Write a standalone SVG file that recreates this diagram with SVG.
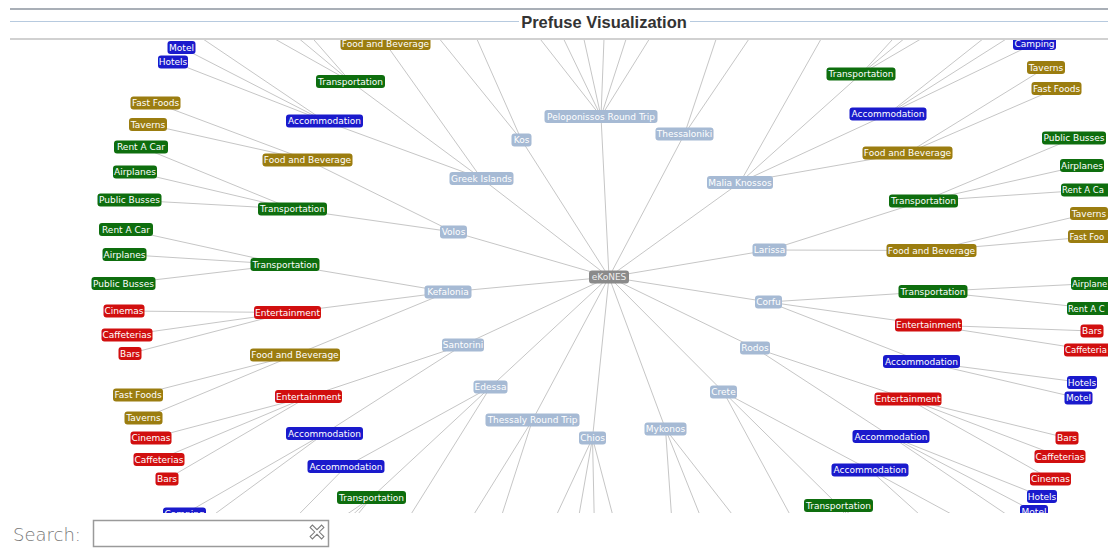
<svg xmlns="http://www.w3.org/2000/svg" width="1108" height="548" viewBox="0 0 1108 548">
  <defs>
    <style>
      .bar-thick { fill: #a9afb7; }
      .bar-blue { stroke: #b7cadf; stroke-width: 1; }
      .bar-base { stroke: #a3a3a3; stroke-width: 1.2; }
      .title { font-family: "Liberation Sans", Arial, sans-serif; font-weight: bold; font-size: 16.5px; fill: #333333; }
      .edges line { stroke: #c6c6c6; stroke-width: 1; fill: none; }
      .node rect { rx: 3; ry: 3; }
      .node text { font-family: "DejaVu Sans", "Noto Sans", sans-serif; font-size: 9px; fill: #ffffff; text-anchor: middle; }
      .node text.lead { text-anchor: start; font-size: 8.5px; }
      .root rect { fill: #8a8a8a; }
      .root text { fill: #eeeeee; }
      .city rect { fill: #a6bad4; }
      .acc rect { fill: #1a1acc; }
      .tra rect { fill: #0e6e0e; }
      .fnb rect { fill: #9b7d10; }
      .ent rect { fill: #d10f0f; }
      .search-label { font-family: "DejaVu Sans", "Liberation Sans", sans-serif; font-weight: 200; font-size: 18px; fill: #777777; }
    </style>
    <clipPath id="panel">
      <rect x="10" y="40" width="1098" height="473"/>
    </clipPath>
  </defs>

  <rect x="0" y="0" width="1108" height="548" fill="#ffffff"/>

  <!-- titled border of the display panel -->
  <g id="title-bar">
    <rect class="bar-thick" x="10" y="8" width="1098" height="2"/>
    <line class="bar-blue" x1="10" y1="21.5" x2="519" y2="21.5"/>
    <line class="bar-blue" x1="690" y1="21.5" x2="1108" y2="21.5"/>
    <line class="bar-base" x1="10" y1="39" x2="1108" y2="39"/>
    <text class="title" x="604" y="27.5" text-anchor="middle">Prefuse Visualization</text>
  </g>

  <g clip-path="url(#panel)">
    <!-- tree edges: root -> city -> category -> item -->
    <g id="connectors" class="edges">
      <!-- root to cities -->
      <line x1="609" y1="277" x2="601" y2="116.5"/>
      <line x1="609" y1="277" x2="521.5" y2="140"/>
      <line x1="609" y1="277" x2="684.5" y2="134"/>
      <line x1="609" y1="277" x2="481.5" y2="178.5"/>
      <line x1="609" y1="277" x2="740" y2="182.5"/>
      <line x1="609" y1="277" x2="453.5" y2="232"/>
      <line x1="609" y1="277" x2="769.5" y2="250"/>
      <line x1="609" y1="277" x2="448" y2="292"/>
      <line x1="609" y1="277" x2="768.5" y2="302"/>
      <line x1="609" y1="277" x2="463" y2="345"/>
      <line x1="609" y1="277" x2="755" y2="348"/>
      <line x1="609" y1="277" x2="490.5" y2="387"/>
      <line x1="609" y1="277" x2="723.5" y2="392"/>
      <line x1="609" y1="277" x2="532.5" y2="420"/>
      <line x1="609" y1="277" x2="665.5" y2="429"/>
      <line x1="609" y1="277" x2="592.5" y2="438"/>

      <!-- cities to categories -->
      <line x1="481.5" y1="178.5" x2="350.5" y2="81.5"/>
      <line x1="481.5" y1="178.5" x2="324.5" y2="121"/>
      <line x1="481.5" y1="178.5" x2="385.5" y2="43.5"/>
      <line x1="453.5" y1="232" x2="307.5" y2="160"/>
      <line x1="453.5" y1="232" x2="292.5" y2="209"/>
      <line x1="448" y1="292" x2="285" y2="264.5"/>
      <line x1="448" y1="292" x2="287.5" y2="312.5"/>
      <line x1="448" y1="292" x2="295" y2="355"/>
      <line x1="463" y1="345" x2="308.5" y2="396.5"/>
      <line x1="463" y1="345" x2="324.5" y2="433.5"/>
      <line x1="490.5" y1="387" x2="346" y2="466.5"/>
      <line x1="490.5" y1="387" x2="371.5" y2="497.5"/>
      <line x1="490.5" y1="387" x2="403" y2="527"/>
      <line x1="532.5" y1="420" x2="447" y2="557.6"/>
      <line x1="532.5" y1="420" x2="482.4" y2="575.2"/>
      <line x1="592.5" y1="438" x2="521.9" y2="589.1"/>
      <line x1="592.5" y1="438" x2="564.5" y2="597.9"/>
      <line x1="592.5" y1="438" x2="596" y2="600.7"/>
      <line x1="592.5" y1="438" x2="635" y2="600"/>
      <line x1="665.5" y1="429" x2="676.9" y2="593.8"/>
      <line x1="665.5" y1="429" x2="725.6" y2="579.3"/>
      <line x1="665.5" y1="429" x2="767.6" y2="559.6"/>
      <line x1="723.5" y1="392" x2="870" y2="470"/>
      <line x1="723.5" y1="392" x2="838.5" y2="505.5"/>
      <line x1="723.5" y1="392" x2="802.2" y2="537.1"/>
      <line x1="755" y1="348" x2="908" y2="399"/>
      <line x1="755" y1="348" x2="891" y2="436.5"/>
      <line x1="768.5" y1="302" x2="933" y2="291.5"/>
      <line x1="768.5" y1="302" x2="928.5" y2="325"/>
      <line x1="768.5" y1="302" x2="921.5" y2="361.5"/>
      <line x1="769.5" y1="250" x2="923.5" y2="201"/>
      <line x1="769.5" y1="250" x2="931.5" y2="250.5"/>
      <line x1="740" y1="182.5" x2="823.7" y2="34.3"/>
      <line x1="740" y1="182.5" x2="861" y2="74"/>
      <line x1="740" y1="182.5" x2="888" y2="114"/>
      <line x1="740" y1="182.5" x2="907.5" y2="153"/>
      <line x1="684.5" y1="134" x2="736.1" y2="-21"/>
      <line x1="684.5" y1="134" x2="775.9" y2="-0.7"/>
      <line x1="601" y1="116.5" x2="490.3" y2="-24.5"/>
      <line x1="601" y1="116.5" x2="527.3" y2="-36.5"/>
      <line x1="601" y1="116.5" x2="565.6" y2="-44.1"/>
      <line x1="601" y1="116.5" x2="607.3" y2="-47"/>
      <line x1="601" y1="116.5" x2="653" y2="-44"/>
      <line x1="601" y1="116.5" x2="695.6" y2="-35.2"/>
      <line x1="521.5" y1="140" x2="419.5" y2="14.2"/>
      <line x1="521.5" y1="140" x2="455.9" y2="-8.5"/>

      <!-- categories to items -->
      <line x1="350.5" y1="81.5" x2="208.5" y2="1.7"/>
      <line x1="350.5" y1="81.5" x2="226" y2="-22.2"/>
      <line x1="350.5" y1="81.5" x2="242.2" y2="-41.9"/>
      <line x1="324.5" y1="121" x2="190.3" y2="30.4"/>
      <line x1="324.5" y1="121" x2="181.5" y2="47.5"/>
      <line x1="324.5" y1="121" x2="173" y2="62"/>
      <line x1="307.5" y1="160" x2="155.5" y2="103"/>
      <line x1="307.5" y1="160" x2="148" y2="124.5"/>
      <line x1="292.5" y1="209" x2="141" y2="147"/>
      <line x1="292.5" y1="209" x2="135" y2="172"/>
      <line x1="292.5" y1="209" x2="129.5" y2="200"/>
      <line x1="285" y1="264.5" x2="126" y2="229.5"/>
      <line x1="285" y1="264.5" x2="124.5" y2="254.5"/>
      <line x1="285" y1="264.5" x2="123.5" y2="283.5"/>
      <line x1="287.5" y1="312.5" x2="124" y2="311"/>
      <line x1="287.5" y1="312.5" x2="127" y2="335"/>
      <line x1="287.5" y1="312.5" x2="130" y2="353.5"/>
      <line x1="295" y1="355" x2="138" y2="395"/>
      <line x1="295" y1="355" x2="143.5" y2="418"/>
      <line x1="308.5" y1="396.5" x2="151" y2="438"/>
      <line x1="308.5" y1="396.5" x2="159" y2="459.5"/>
      <line x1="308.5" y1="396.5" x2="167" y2="479"/>
      <line x1="324.5" y1="433.5" x2="184.5" y2="514"/>
      <line x1="324.5" y1="433.5" x2="193.7" y2="529.5"/>
      <line x1="346" y1="466.5" x2="231.3" y2="582.9"/>
      <line x1="371.5" y1="497.5" x2="268.4" y2="623.7"/>
      <line x1="371.5" y1="497.5" x2="252.4" y2="607.2"/>
      <line x1="371.5" y1="497.5" x2="236.7" y2="589.4"/>
      <line x1="861" y1="74" x2="971.3" y2="-46.9"/>
      <line x1="861" y1="74" x2="986.7" y2="-28.8"/>
      <line x1="861" y1="74" x2="1002.2" y2="-8.7"/>
      <line x1="888" y1="114" x2="1016.6" y2="12.3"/>
      <line x1="888" y1="114" x2="1025.6" y2="26.7"/>
      <line x1="888" y1="114" x2="1034.5" y2="43.5"/>
      <line x1="907.5" y1="153" x2="1046" y2="67.5"/>
      <line x1="907.5" y1="153" x2="1056.5" y2="88.5"/>
      <line x1="923.5" y1="201" x2="1074" y2="138"/>
      <line x1="923.5" y1="201" x2="1082" y2="165.5"/>
      <line x1="923.5" y1="201" x2="1088" y2="190"/>
      <line x1="931.5" y1="250.5" x2="1089" y2="213.5"/>
      <line x1="931.5" y1="250.5" x2="1093" y2="236.5"/>
      <line x1="933" y1="291.5" x2="1093" y2="283.5"/>
      <line x1="933" y1="291.5" x2="1094" y2="308.5"/>
      <line x1="928.5" y1="325" x2="1092" y2="331"/>
      <line x1="928.5" y1="325" x2="1089.5" y2="350"/>
      <line x1="921.5" y1="361.5" x2="1082" y2="382.5"/>
      <line x1="921.5" y1="361.5" x2="1078.5" y2="398"/>
      <line x1="908" y1="399" x2="1067" y2="438"/>
      <line x1="908" y1="399" x2="1060" y2="456.5"/>
      <line x1="908" y1="399" x2="1050.5" y2="479"/>
      <line x1="891" y1="436.5" x2="1042" y2="496.5"/>
      <line x1="891" y1="436.5" x2="1034" y2="511.5"/>
      <line x1="891" y1="436.5" x2="1025.6" y2="527.3"/>
      <line x1="870" y1="470" x2="1012.9" y2="547.4"/>
      <line x1="870" y1="470" x2="990.4" y2="578.2"/>
      <line x1="838.5" y1="505.5" x2="970.2" y2="602.2"/>
      <line x1="838.5" y1="505.5" x2="952.7" y2="620.7"/>
      <line x1="838.5" y1="505.5" x2="934.2" y2="638.2"/>
    </g>

    <!-- root -->
    <g id="n-ekones" class="node root"><rect x="589" y="270.5" width="40" height="13"/><text x="609" y="280.2">eKoNES</text></g>

    <!-- cities -->
    <g id="n-peloponissos" class="node city"><rect x="544.5" y="110" width="113" height="13"/><text x="601" y="119.7">Peloponissos Round Trip</text></g>
    <g id="n-kos" class="node city"><rect x="511.5" y="133.5" width="20" height="13"/><text x="521.5" y="143.2">Kos</text></g>
    <g id="n-thessaloniki" class="node city"><rect x="655.5" y="127.5" width="58" height="13"/><text x="684.5" y="137.2">Thessaloniki</text></g>
    <g id="n-greek-islands" class="node city"><rect x="449.5" y="172" width="64" height="13"/><text x="481.5" y="181.7">Greek Islands</text></g>
    <g id="n-malia-knossos" class="node city"><rect x="707" y="176" width="66" height="13"/><text x="740" y="185.7">Malia Knossos</text></g>
    <g id="n-volos" class="node city"><rect x="440" y="225.5" width="27" height="13"/><text x="453.5" y="235.2">Volos</text></g>
    <g id="n-larissa" class="node city"><rect x="752.5" y="243.5" width="34" height="13"/><text x="769.5" y="253.2">Larissa</text></g>
    <g id="n-kefalonia" class="node city"><rect x="424.5" y="285.5" width="47" height="13"/><text x="448" y="295.2">Kefalonia</text></g>
    <g id="n-corfu" class="node city"><rect x="755" y="295.5" width="27" height="13"/><text x="768.5" y="305.2">Corfu</text></g>
    <g id="n-santorini" class="node city"><rect x="442" y="338.5" width="42" height="13"/><text x="463" y="348.2">Santorini</text></g>
    <g id="n-rodos" class="node city"><rect x="740" y="341.5" width="30" height="13"/><text x="755" y="351.2">Rodos</text></g>
    <g id="n-edessa" class="node city"><rect x="473.5" y="380.5" width="34" height="13"/><text x="490.5" y="390.2">Edessa</text></g>
    <g id="n-crete" class="node city"><rect x="710" y="385.5" width="27" height="13"/><text x="723.5" y="395.2">Crete</text></g>
    <g id="n-thessaly" class="node city"><rect x="485.5" y="413.5" width="94" height="13"/><text x="532.5" y="423.2">Thessaly Round Trip</text></g>
    <g id="n-mykonos" class="node city"><rect x="644.5" y="422.5" width="42" height="13"/><text x="665.5" y="432.2">Mykonos</text></g>
    <g id="n-chios" class="node city"><rect x="579" y="431.5" width="27" height="13"/><text x="592.5" y="441.2">Chios</text></g>

    <!-- categories, left half -->
    <g id="n-fnb-1" class="node fnb"><rect x="340.5" y="37" width="90" height="13"/><text x="385.5" y="46.7">Food and Beverage</text></g>
    <g id="n-tra-1" class="node tra"><rect x="316" y="75" width="69" height="13"/><text x="350.5" y="84.7">Transportation</text></g>
    <g id="n-acc-1" class="node acc"><rect x="286" y="114.5" width="77" height="13"/><text x="324.5" y="124.2">Accommodation</text></g>
    <g id="n-fnb-2" class="node fnb"><rect x="262.5" y="153.5" width="90" height="13"/><text x="307.5" y="163.2">Food and Beverage</text></g>
    <g id="n-tra-2" class="node tra"><rect x="258" y="202.5" width="69" height="13"/><text x="292.5" y="212.2">Transportation</text></g>
    <g id="n-tra-3" class="node tra"><rect x="250.5" y="258" width="69" height="13"/><text x="285" y="267.7">Transportation</text></g>
    <g id="n-ent-1" class="node ent"><rect x="254" y="306" width="67" height="13"/><text x="287.5" y="315.7">Entertainment</text></g>
    <g id="n-fnb-3" class="node fnb"><rect x="250" y="348.5" width="90" height="13"/><text x="295" y="358.2">Food and Beverage</text></g>
    <g id="n-ent-2" class="node ent"><rect x="275" y="390" width="67" height="13"/><text x="308.5" y="399.7">Entertainment</text></g>
    <g id="n-acc-2" class="node acc"><rect x="286" y="427" width="77" height="13"/><text x="324.5" y="436.7">Accommodation</text></g>
    <g id="n-acc-3" class="node acc"><rect x="307.5" y="460" width="77" height="13"/><text x="346" y="469.7">Accommodation</text></g>
    <g id="n-tra-4" class="node tra"><rect x="337" y="491" width="69" height="13"/><text x="371.5" y="500.7">Transportation</text></g>

    <!-- categories, right half -->
    <g id="n-tra-5" class="node tra"><rect x="826.5" y="67.5" width="69" height="13"/><text x="861" y="77.2">Transportation</text></g>
    <g id="n-acc-4" class="node acc"><rect x="849.5" y="107.5" width="77" height="13"/><text x="888" y="117.2">Accommodation</text></g>
    <g id="n-fnb-4" class="node fnb"><rect x="862.5" y="146.5" width="90" height="13"/><text x="907.5" y="156.2">Food and Beverage</text></g>
    <g id="n-tra-6" class="node tra"><rect x="889" y="194.5" width="69" height="13"/><text x="923.5" y="204.2">Transportation</text></g>
    <g id="n-fnb-5" class="node fnb"><rect x="886.5" y="244" width="90" height="13"/><text x="931.5" y="253.7">Food and Beverage</text></g>
    <g id="n-tra-7" class="node tra"><rect x="898.5" y="285" width="69" height="13"/><text x="933" y="294.7">Transportation</text></g>
    <g id="n-ent-3" class="node ent"><rect x="895" y="318.5" width="67" height="13"/><text x="928.5" y="328.2">Entertainment</text></g>
    <g id="n-acc-5" class="node acc"><rect x="883" y="355" width="77" height="13"/><text x="921.5" y="364.7">Accommodation</text></g>
    <g id="n-ent-4" class="node ent"><rect x="874.5" y="392.5" width="67" height="13"/><text x="908" y="402.2">Entertainment</text></g>
    <g id="n-acc-6" class="node acc"><rect x="852.5" y="430" width="77" height="13"/><text x="891" y="439.7">Accommodation</text></g>
    <g id="n-acc-7" class="node acc"><rect x="831.5" y="463.5" width="77" height="13"/><text x="870" y="473.2">Accommodation</text></g>
    <g id="n-tra-8" class="node tra"><rect x="804" y="499" width="69" height="13"/><text x="838.5" y="508.7">Transportation</text></g>

    <!-- items, left half -->
    <g id="n-motel-1" class="node acc"><rect x="167.5" y="41" width="28" height="13"/><text x="181.5" y="50.7">Motel</text></g>
    <g id="n-hotels-1" class="node acc"><rect x="158" y="55.5" width="30" height="13"/><text x="173" y="65.2">Hotels</text></g>
    <g id="n-fastfoods-1" class="node fnb"><rect x="130.5" y="96.5" width="50" height="13"/><text x="155.5" y="106.2">Fast Foods</text></g>
    <g id="n-taverns-1" class="node fnb"><rect x="129" y="118" width="38" height="13"/><text x="148" y="127.7">Taverns</text></g>
    <g id="n-rentacar-1" class="node tra"><rect x="114" y="140.5" width="54" height="13"/><text x="141" y="150.2">Rent A Car</text></g>
    <g id="n-airplanes-1" class="node tra"><rect x="113" y="165.5" width="44" height="13"/><text x="135" y="175.2">Airplanes</text></g>
    <g id="n-busses-1" class="node tra"><rect x="97.5" y="193.5" width="64" height="13"/><text x="129.5" y="203.2">Public Busses</text></g>
    <g id="n-rentacar-2" class="node tra"><rect x="99" y="223" width="54" height="13"/><text x="126" y="232.7">Rent A Car</text></g>
    <g id="n-airplanes-2" class="node tra"><rect x="102.5" y="248" width="44" height="13"/><text x="124.5" y="257.7">Airplanes</text></g>
    <g id="n-busses-2" class="node tra"><rect x="91.5" y="277" width="64" height="13"/><text x="123.5" y="286.7">Public Busses</text></g>
    <g id="n-cinemas-1" class="node ent"><rect x="103.5" y="304.5" width="41" height="13"/><text x="124" y="314.2">Cinemas</text></g>
    <g id="n-caff-1" class="node ent"><rect x="101.5" y="328.5" width="51" height="13"/><text x="127" y="338.2">Caffeterias</text></g>
    <g id="n-bars-1" class="node ent"><rect x="118.5" y="347" width="23" height="13"/><text x="130" y="356.7">Bars</text></g>
    <g id="n-fastfoods-2" class="node fnb"><rect x="113" y="388.5" width="50" height="13"/><text x="138" y="398.2">Fast Foods</text></g>
    <g id="n-taverns-2" class="node fnb"><rect x="124.5" y="411.5" width="38" height="13"/><text x="143.5" y="421.2">Taverns</text></g>
    <g id="n-cinemas-2" class="node ent"><rect x="130.5" y="431.5" width="41" height="13"/><text x="151" y="441.2">Cinemas</text></g>
    <g id="n-caff-2" class="node ent"><rect x="133.5" y="453" width="51" height="13"/><text x="159" y="462.7">Caffeterias</text></g>
    <g id="n-bars-2" class="node ent"><rect x="155.5" y="472.5" width="23" height="13"/><text x="167" y="482.2">Bars</text></g>
    <g id="n-camping-1" class="node acc"><rect x="163" y="507.5" width="43" height="13"/><text x="184.5" y="517.2">Camping</text></g>

    <!-- items, right half (labels at the window edge show only what fits) -->
    <g id="n-camping-2" class="node acc"><rect x="1013" y="37" width="43" height="13"/><text x="1034.5" y="46.7">Camping</text></g>
    <g id="n-taverns-3" class="node fnb"><rect x="1027" y="61" width="38" height="13"/><text x="1046" y="70.7">Taverns</text></g>
    <g id="n-fastfoods-3" class="node fnb"><rect x="1031.5" y="82" width="50" height="13"/><text x="1056.5" y="91.7">Fast Foods</text></g>
    <g id="n-busses-3" class="node tra"><rect x="1042" y="131.5" width="64" height="13"/><text x="1074" y="141.2">Public Busses</text></g>
    <g id="n-airplanes-3" class="node tra"><rect x="1060" y="159" width="44" height="13"/><text x="1082" y="168.7">Airplanes</text></g>
    <g id="n-rentacar-3" class="node tra"><rect x="1061" y="183.5" width="54" height="13"/><text class="lead" x="1062" y="193">Rent A Ca</text></g>
    <g id="n-taverns-4" class="node fnb"><rect x="1070" y="207" width="38" height="13"/><text x="1089" y="216.7">Taverns</text></g>
    <g id="n-fastfoods-4" class="node fnb"><rect x="1068" y="230" width="50" height="13"/><text class="lead" x="1069.5" y="239.5">Fast Foo</text></g>
    <g id="n-airplanes-4" class="node tra"><rect x="1071" y="277" width="44" height="13"/><text class="lead" x="1072" y="286.5">Airplane</text></g>
    <g id="n-rentacar-4" class="node tra"><rect x="1067" y="302" width="54" height="13"/><text class="lead" x="1068" y="311.5">Rent A C</text></g>
    <g id="n-bars-3" class="node ent"><rect x="1080.5" y="324.5" width="23" height="13"/><text x="1092" y="334.2">Bars</text></g>
    <g id="n-caff-3" class="node ent"><rect x="1064" y="343.5" width="51" height="13"/><text class="lead" x="1065" y="353">Caffeteria</text></g>
    <g id="n-hotels-2" class="node acc"><rect x="1067" y="376" width="30" height="13"/><text x="1082" y="385.7">Hotels</text></g>
    <g id="n-motel-2" class="node acc"><rect x="1064.5" y="391.5" width="28" height="13"/><text x="1078.5" y="401.2">Motel</text></g>
    <g id="n-bars-4" class="node ent"><rect x="1055.5" y="431.5" width="23" height="13"/><text x="1067" y="441.2">Bars</text></g>
    <g id="n-caff-4" class="node ent"><rect x="1034.5" y="450" width="51" height="13"/><text x="1060" y="459.7">Caffeterias</text></g>
    <g id="n-cinemas-3" class="node ent"><rect x="1030" y="472.5" width="41" height="13"/><text x="1050.5" y="482.2">Cinemas</text></g>
    <g id="n-hotels-3" class="node acc"><rect x="1027" y="490" width="30" height="13"/><text x="1042" y="499.7">Hotels</text></g>
    <g id="n-motel-3" class="node acc"><rect x="1020" y="505" width="28" height="13"/><text x="1034" y="514.7">Motel</text></g>
  </g>

  <!-- search field below the display -->
  <g id="search">
    <text class="search-label" x="13" y="541">Search:</text>
    <rect x="93.5" y="520.5" width="235" height="26" fill="#ffffff" stroke="#9a9a9a" stroke-width="1.5"/>
    <polygon points="-6,-4 -4,-6 0,-2 4,-6 6,-4 2,0 6,4 4,6 0,2 -4,6 -6,4 -2,0" transform="translate(317 532) scale(1.15)" fill="#ffffff" stroke="#7a7a7a" stroke-width="0.9"/>
  </g>
</svg>
